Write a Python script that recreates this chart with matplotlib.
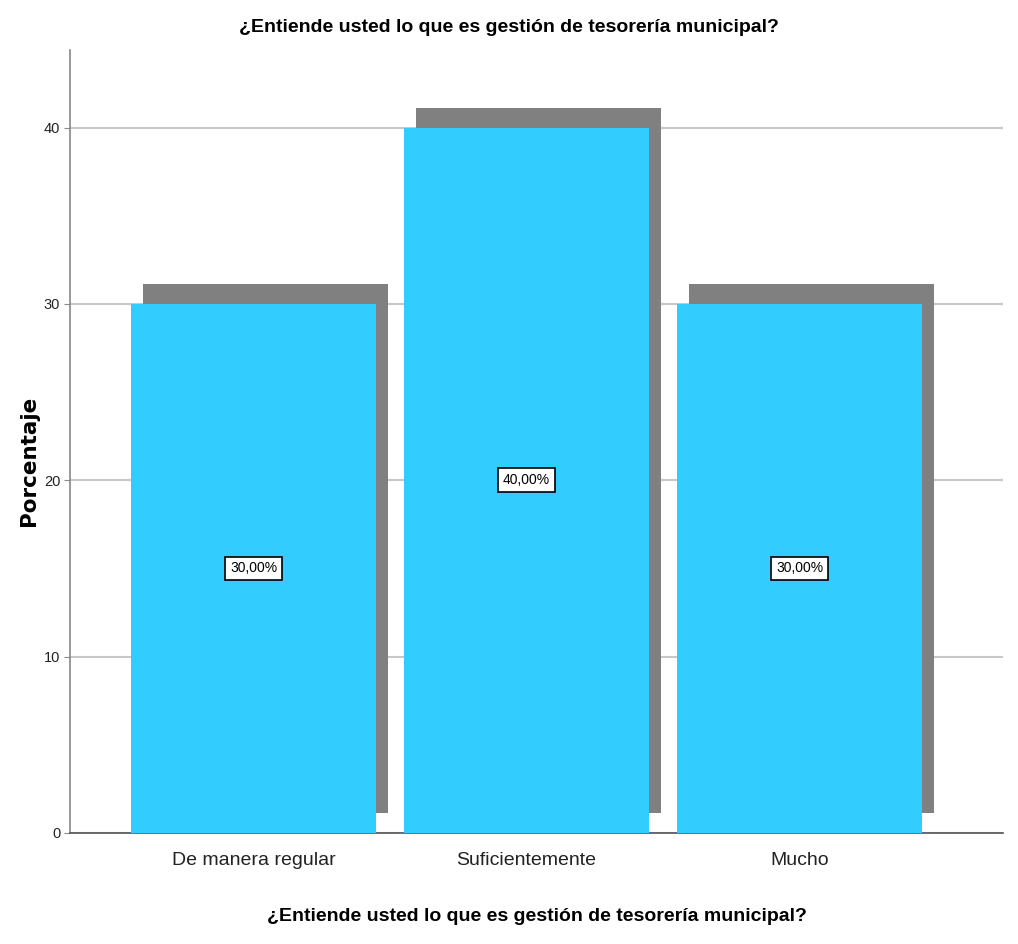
import matplotlib
matplotlib.use('Agg')
import matplotlib.pyplot as plt
import numpy as np
from matplotlib.transforms import ScaledTranslation

# data
categories = ['De manera regular', 'Suficientemente', 'Mucho']
porcentajes = [30.0, 40.0, 30.0]
etiquetas = ['30,00%', '40,00%', '30,00%']
titulo = '¿Entiende usted lo que es gestión de tesorería municipal?'

plt.rcParams['font.family'] = ['Liberation Sans', 'DejaVu Sans']

fig = plt.figure(figsize=(10.18, 9.44), dpi=100)
ax = fig.add_axes([70/1018, 1-833/944, 933/1018, 783/944])

x = np.arange(len(categories))
w = 0.897

# shadow, shifted right and up
shadow_tr = ax.transData + ScaledTranslation(12/100, 20/100, fig.dpi_scale_trans)
ax.bar(x, porcentajes, w, color='#808080', transform=shadow_tr, zorder=2)
ax.bar(x, porcentajes, w, color='#33ccff', zorder=3)

for xi, v, t in zip(x, porcentajes, etiquetas):
    ax.text(xi, v/2, t, ha='center', va='center', fontsize=10, zorder=5,
            bbox=dict(boxstyle='square,pad=0.35', fc='white', ec='black', lw=1.2))

ax.set_xlim(-0.672, 2.745)
ax.set_ylim(0, 44.4)
ax.set_yticks([0, 10, 20, 30, 40])
ax.yaxis.grid(True, color='#c8c8c8', lw=1.5, zorder=0)
ax.set_axisbelow(True)
ax.set_xticks(x)
ax.set_xticklabels(categories, fontsize=14, color='#222222')
ax.tick_params(axis='x', length=0, pad=14)
ax.tick_params(axis='y', length=4, color='#888888', labelsize=10.5, labelcolor='#222222', pad=3)
for s in ['top', 'right']:
    ax.spines[s].set_visible(False)
ax.spines['left'].set_color('#888888')
ax.spines['bottom'].set_color('#555555')
ax.spines['left'].set_linewidth(1.2)
ax.spines['bottom'].set_linewidth(1.2)

ax.set_ylabel('Porcentaje', fontsize=15.5, fontweight='bold', family='DejaVu Sans')
ax.yaxis.set_label_coords(-0.033, 0.475)
ax.set_xlabel(titulo, fontsize=14, fontweight='bold', labelpad=28)
fig.text(0.5, 1-28/944, titulo, ha='center', va='center', fontsize=14, fontweight='bold')

fig.savefig('out.png', dpi=100)
